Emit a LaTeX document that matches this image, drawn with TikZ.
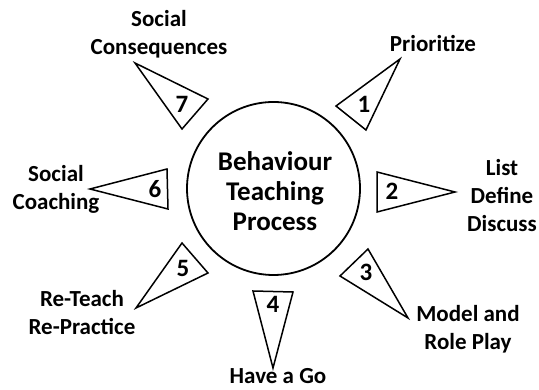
\documentclass[tikz,border=0pt]{standalone}
\usepackage{fontspec}
\setmainfont{Carlito}
\begin{document}
\begin{tikzpicture}[x=1pt,y=-1pt,
  wedge/.style={draw=black,line width=1.5pt,line join=miter,fill=white},
  hub/.style={draw=black,line width=1.8pt,circle,minimum size=173pt,inner sep=0pt},
  num/.style={font=\fontsize{25}{28}\selectfont\bfseries,anchor=base,inner sep=0pt},
  lbl/.style={font=\fontsize{23}{28}\selectfont\bfseries,align=center,anchor=base,inner sep=0pt},
  title/.style={font=\fontsize{27}{30}\selectfont\bfseries,align=center,anchor=base,inner sep=0pt}]
\useasboundingbox (0,0) rectangle (539,390);

% central circle (base anchors of multi-line nodes sit on the last line)
\node[hub] (hub) at (273.5,188.5) {};
\node[title] (centre) at (275,231) {Behaviour\\Teaching\\Process};

% wedge corners: tip, then the two corners of the wide end
\coordinate (t7a) at (135,63);  \coordinate (t7b) at (208,99);  \coordinate (t7c) at (182,129);
\coordinate (t1a) at (400,59);  \coordinate (t1b) at (336,106); \coordinate (t1c) at (366,130);
\coordinate (t2a) at (455,192); \coordinate (t2b) at (377,172); \coordinate (t2c) at (377,212);
\coordinate (t3a) at (408,318); \coordinate (t3b) at (340,276); \coordinate (t3c) at (368,249);
\coordinate (t4a) at (273,368); \coordinate (t4b) at (253,291); \coordinate (t4c) at (293,292);
\coordinate (t5a) at (136,308); \coordinate (t5b) at (182,243); \coordinate (t5c) at (208,273);
\coordinate (t6a) at (90,189);  \coordinate (t6b) at (167,169); \coordinate (t6c) at (168,209);

\foreach \k in {1,...,7}{
  \draw[wedge] (t\k a) -- (t\k b) -- (t\k c) -- cycle;
}

% step numbers
\node[num] (n1) at (364,113) {1};
\node[num] (n2) at (392,200) {2};
\node[num] (n3) at (366,281) {3};
\node[num] (n4) at (273,313) {4};
\node[num] (n5) at (183,277) {5};
\node[num] (n6) at (155,198) {6};
\node[num] (n7) at (182,113) {7};

% step labels
\node[lbl] (l1) at (433,52)  {Prioritize};
\node[lbl] (l2) at (502,232) {List\\Define\\Discuss};
\node[lbl] (l3) at (468,350) {Model and\\Role Play};
\node[lbl] (l4) at (278,384) {Have a Go};
\node[lbl] (l5) at (82,335)  {Re-Teach\\Re-Practice};
\node[lbl] (l6) at (56,210)  {Social\\Coaching};
\node[lbl] (l7) at (159,55)  {Social\\Consequences};
\end{tikzpicture}
\end{document}
